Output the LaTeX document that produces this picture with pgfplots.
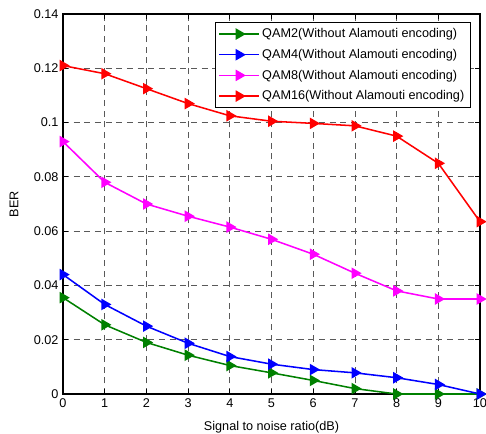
\documentclass[border=0pt]{standalone}
\usepackage{pgfplots}
\pgfplotsset{compat=1.18}
\usepackage{fontspec}
\setmainfont{Liberation Sans}

\definecolor{mgreen}{rgb}{0,0.5,0}
\definecolor{mmag}{rgb}{1,0,1}
\definecolor{mblue}{rgb}{0,0,1}
\definecolor{mred}{rgb}{1,0,0}

\begin{document}
\fontsize{9.5pt}{11pt}\selectfont
\begin{tikzpicture}
\useasboundingbox (-47.25pt,-29.25pt) rectangle (317.25pt,295.5pt);
\begin{axis}[
  scale only axis,
  width=312.75pt, height=285pt,
  xmin=0, xmax=10, ymin=0, ymax=0.14,
  xtick={0,1,...,10},
  ytick={0,0.02,0.04,0.06,0.08,0.1,0.12,0.14},
  yticklabels={0,0.02,0.04,0.06,0.08,0.1,0.12,0.14},
  scaled y ticks=false,
  /pgf/number format/assume math mode=true,
  tick label style={font=\fontsize{9.5pt}{11pt}\selectfont},
  label style={font=\fontsize{9.5pt}{11pt}\selectfont},
  tick align=inside,
  major tick length=4pt,
  tick style={black, line width=0.6pt},
  axis line style={black, line width=0.9pt},
  grid=major,
  major grid style={black!65, dash pattern=on 4.5pt off 3.5pt, line width=0.6pt},
  xlabel={Signal to noise ratio(dB)},
  ylabel={BER},
  xlabel style={yshift=-3.5pt},
  ylabel style={yshift=5pt},
  every axis plot/.append style={line width=1.15pt, mark=triangle*, mark size=3.9pt,
    mark options={rotate=-90, solid}},
  legend style={at={(0.978,0.979)}, anchor=north east, draw=black, line width=0.8pt,
    font=\fontsize{9.5pt}{11pt}\selectfont, row sep=3.2pt, inner sep=2.5pt,
    cells={anchor=west}},
  legend image code/.code={
    \draw[mark repeat=2,mark phase=2] plot coordinates {(0cm,0cm) (0.52cm,0cm) (1.04cm,0cm)};
  },
]
\addplot[color=mgreen] coordinates {
  (0,0.0355) (1,0.0255) (2,0.019) (3,0.0143) (4,0.0105) (5,0.0078)
  (6,0.005) (7,0.002) (8,0) (9,0) (10,0)};
\addlegendentry{QAM2(Without Alamouti encoding)}
\addplot[color=mblue] coordinates {
  (0,0.044) (1,0.033) (2,0.025) (3,0.0187) (4,0.0138) (5,0.011)
  (6,0.009) (7,0.0078) (8,0.006) (9,0.0035) (10,0)};
\addlegendentry{QAM4(Without Alamouti encoding)}
\addplot[color=mmag] coordinates {
  (0,0.093) (1,0.078) (2,0.070) (3,0.0655) (4,0.0615) (5,0.057)
  (6,0.0515) (7,0.0445) (8,0.038) (9,0.035) (10,0.035)};
\addlegendentry{QAM8(Without Alamouti encoding)}
\addplot[color=mred] coordinates {
  (0,0.121) (1,0.118) (2,0.1125) (3,0.107) (4,0.1025) (5,0.1005)
  (6,0.0997) (7,0.0988) (8,0.095) (9,0.085) (10,0.0635)};
\addlegendentry{QAM16(Without Alamouti encoding)}
\end{axis}
\end{tikzpicture}
\end{document}
